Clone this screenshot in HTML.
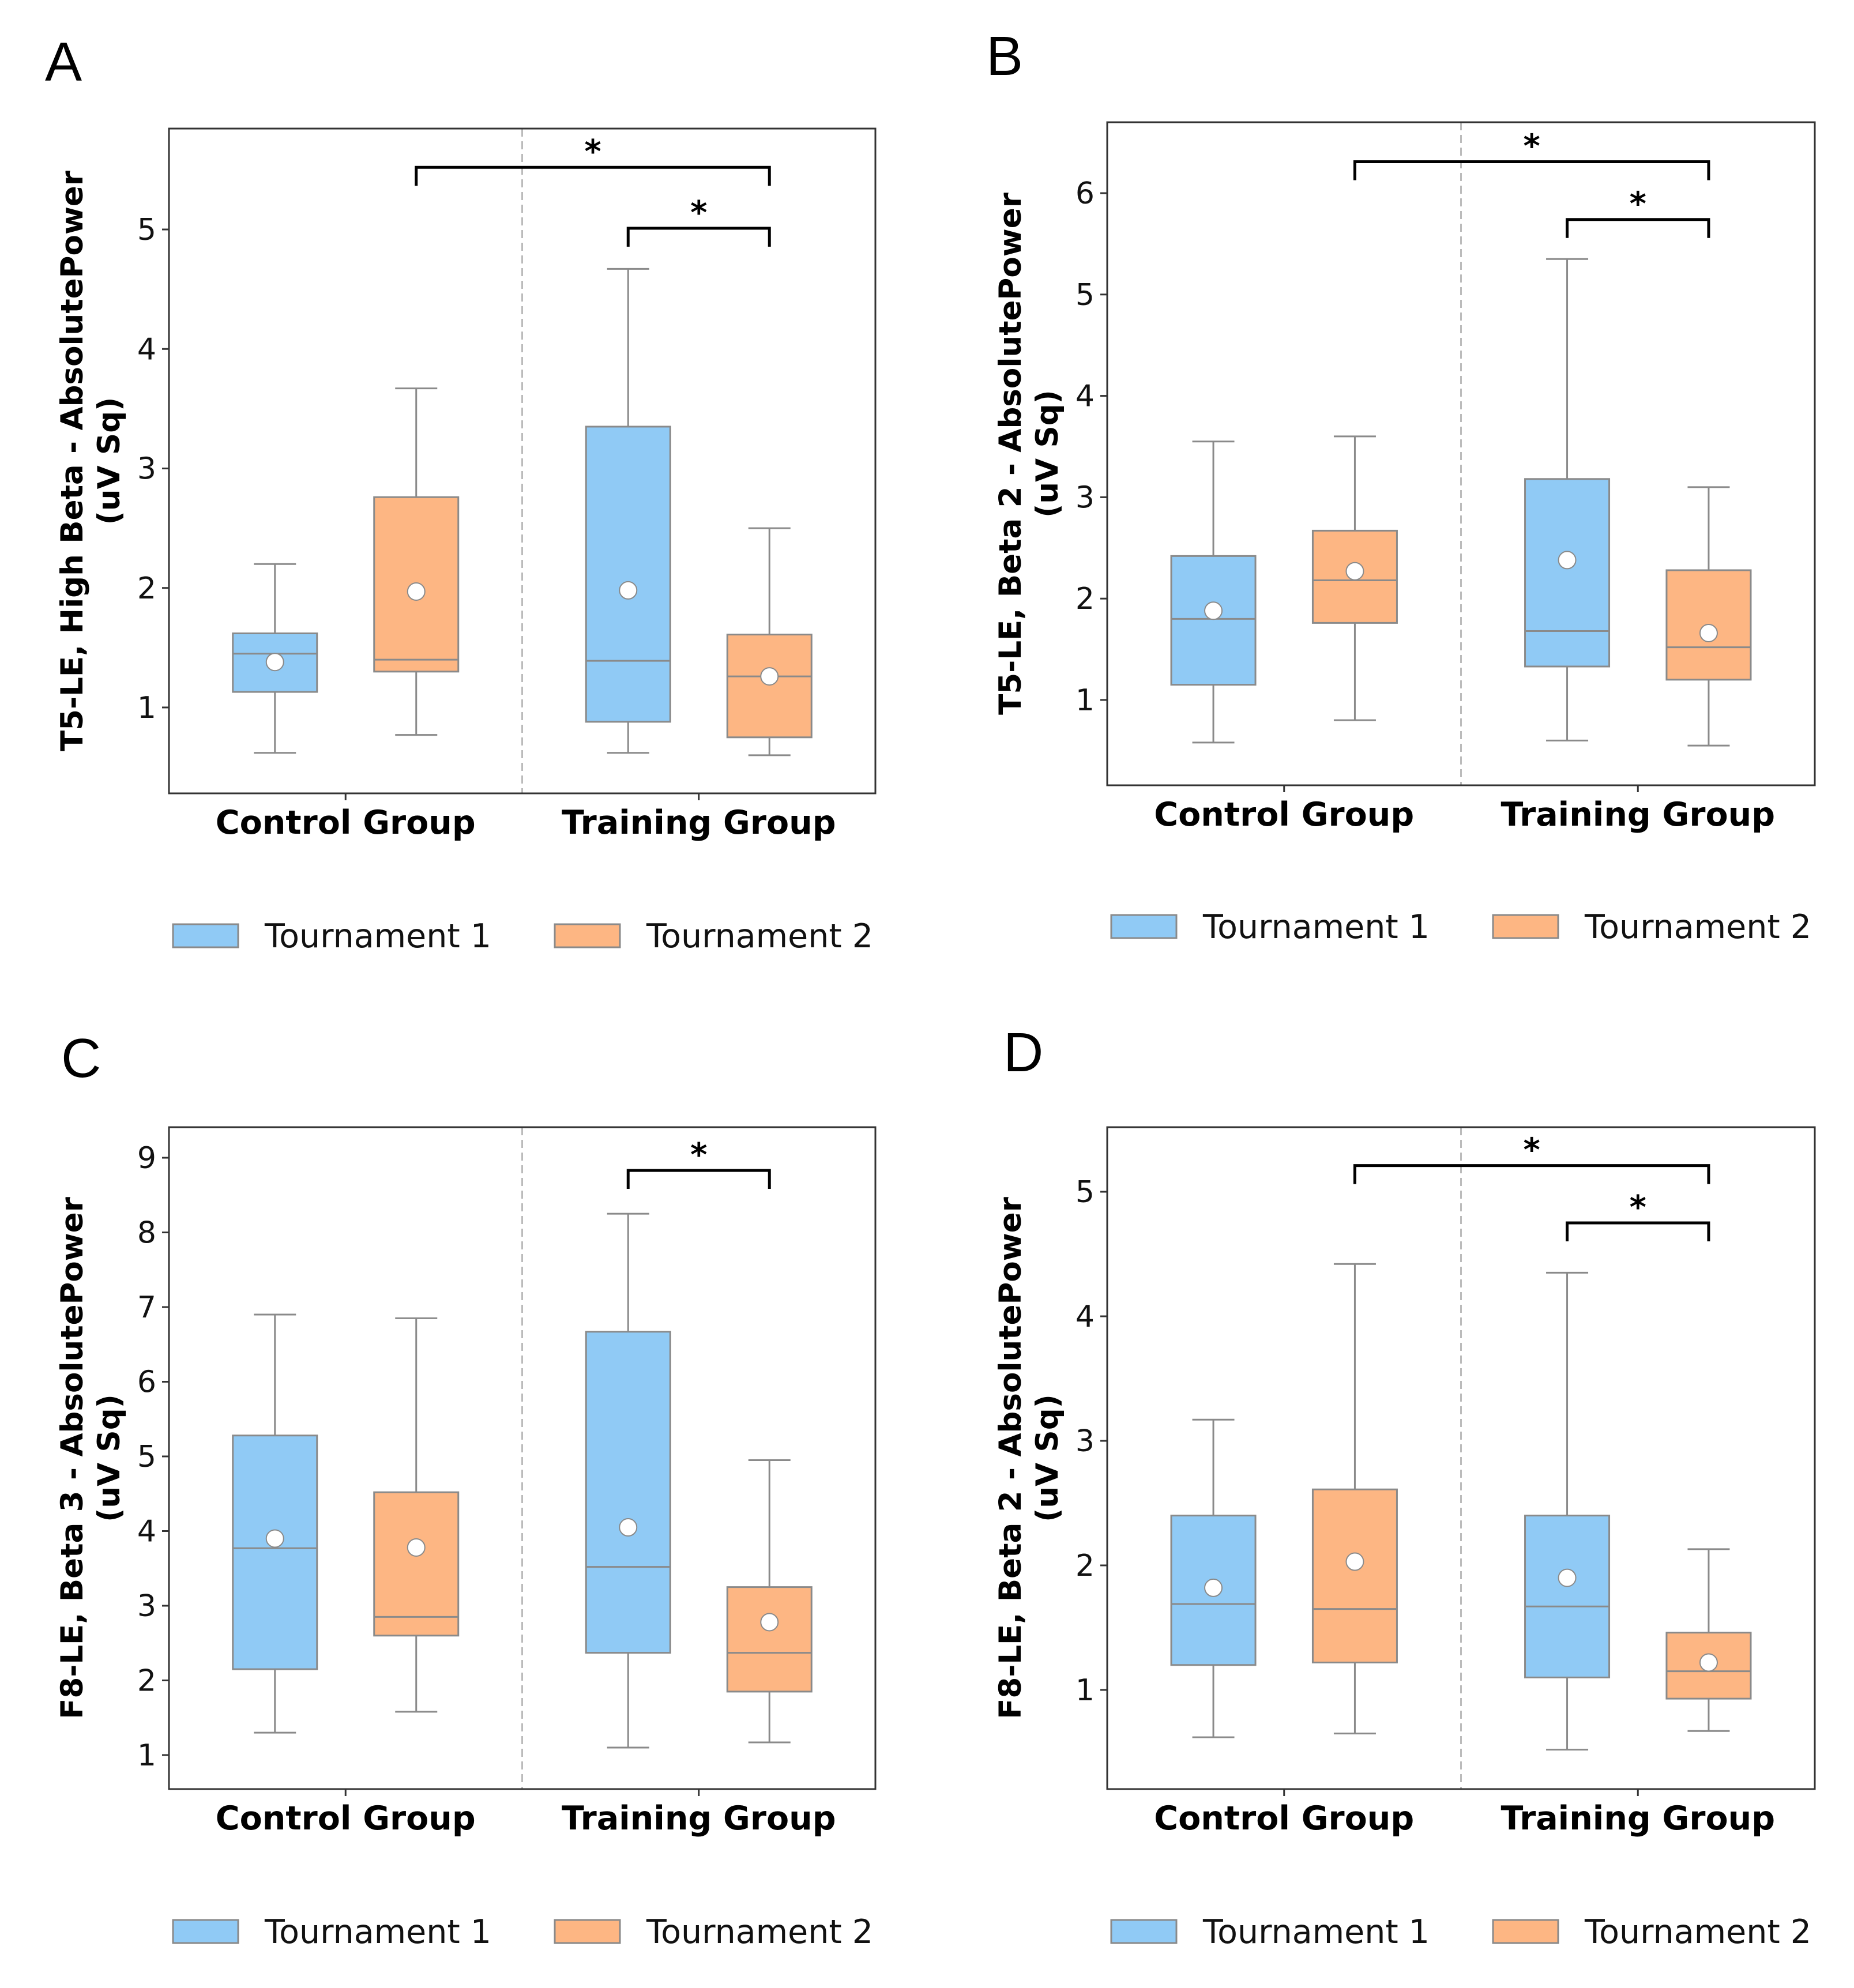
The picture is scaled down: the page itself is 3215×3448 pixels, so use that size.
<!DOCTYPE html>
<html><head><meta charset="utf-8"><style>
html,body{margin:0;padding:0;background:#fff;}
svg{display:block;font-family:"DejaVu Sans","Liberation Sans",sans-serif;}
</style></head><body>
<svg id="fig" width="3215" height="3448" viewBox="0 0 3215 3448" xmlns="http://www.w3.org/2000/svg"></svg>
<script>
// ---- data (per panel) ----
const categories = ["Control Group", "Training Group"];
const seriesNames = ["Tournament 1", "Tournament 2"];
// each box: [whiskerLow, q1, median, q3, whiskerHigh, mean]; order: ctrl-T1, ctrl-T2, train-T1, train-T2
const boxesA = [[0.62,1.13,1.45,1.62,2.2,1.38],[0.77,1.3,1.4,2.76,3.67,1.97],[0.62,0.88,1.39,3.35,4.67,1.98],[0.6,0.75,1.26,1.61,2.5,1.26]];
const boxesB = [[0.58,1.15,1.8,2.42,3.55,1.88],[0.8,1.76,2.18,2.67,3.6,2.27],[0.6,1.33,1.68,3.18,5.35,2.38],[0.55,1.2,1.52,2.28,3.1,1.66]];
const boxesC = [[1.3,2.15,3.77,5.28,6.9,3.9],[1.58,2.6,2.85,4.52,6.85,3.78],[1.1,2.37,3.52,6.67,8.25,4.05],[1.17,1.85,2.37,3.25,4.95,2.78]];
const boxesD = [[0.62,1.2,1.69,2.4,3.17,1.82],[0.65,1.22,1.65,2.61,4.42,2.03],[0.52,1.1,1.67,2.4,4.35,1.9],[0.67,0.93,1.15,1.46,2.13,1.22]];
const ticksA = [1,2,3,4,5];
const ticksB = [1,2,3,4,5,6];
const ticksC = [1,2,3,4,5,6,7,8,9];
const ticksD = [1,2,3,4,5];
// brackets: [fromBoxIndex, toBoxIndex, level]
const bracketsA = [[1,3,5.52],[2,3,5.01]];
const bracketsB = [[1,3,6.31],[2,3,5.74]];
const bracketsC = [[2,3,8.83]];
const bracketsD = [[1,3,5.21],[2,3,4.75]];
// box slot positions as fraction of x-axis (group 0: slots 0,1; group 1: slots 2,3)
const slotFrac = [0.15, 0.35, 0.65, 0.85];

const NS = "http://www.w3.org/2000/svg";
const svg = document.getElementById("fig");
function mk(tag, attrs, parent, text){
  const e = document.createElementNS(NS, tag);
  for (const k in attrs) e.setAttribute(k, attrs[k]);
  if (text !== undefined) e.textContent = text;
  (parent||svg).appendChild(e);
  return e;
}
const colors = ["#90caf5","#fdb683"];

function panel(cfg){
  const g = mk("g", {});
  
  
  const L=cfg.left, R=cfg.right, T=cfg.top, B=cfg.bottom;
  const unit = (cfg.y1 - cfg.yTop) / (cfg.topTick - 1);
  const y = v => cfg.y1 - (v - 1) * unit;
  const W = R - L;
  const x = i => L + W * slotFrac[i];
  const dashX = L + W/2;
  const bw = 146;

  const lt = mk("text", {x: cfg.letterX, y: cfg.letterY, "font-size": 96, fill: "#000", "font-family": "Liberation Sans, sans-serif"}, g, cfg.letter);
  
  

  const dl = mk("line", {x1: dashX, x2: dashX, y1: T, y2: B, stroke: "#bbb", "stroke-width": 3, "stroke-dasharray": "14 8"}, g);
  
  

  cfg.boxes.forEach((b, i) => {
    const cx = x(i);
    const bg = mk("g", {}, g);
    
    
    const st = {stroke: "#8a8a8a", "stroke-width": 3};
    mk("line", Object.assign({x1: cx, x2: cx, y1: y(b[0]), y2: y(b[1])}, st), bg);
    mk("line", Object.assign({x1: cx, x2: cx, y1: y(b[3]), y2: y(b[4])}, st), bg);
    mk("line", Object.assign({x1: cx-bw/4, x2: cx+bw/4, y1: y(b[0]), y2: y(b[0])}, st), bg);
    mk("line", Object.assign({x1: cx-bw/4, x2: cx+bw/4, y1: y(b[4]), y2: y(b[4])}, st), bg);
    mk("rect", Object.assign({x: cx-bw/2, y: y(b[3]), width: bw, height: y(b[1])-y(b[3]), fill: colors[i%2]}, st), bg);
    mk("line", Object.assign({x1: cx-bw/2, x2: cx+bw/2, y1: y(b[2]), y2: y(b[2])}, st), bg);
    mk("circle", {cx: cx, cy: y(b[5]), r: 15, fill: "#fff", stroke: "#8a8a8a", "stroke-width": 2}, bg);
  });

  cfg.brackets.forEach(br => {
    const x1 = x(br[0]), x2 = x(br[1]), yy = y(br[2]);
    const drop = 32;
    const p = mk("path", {d: `M${x1},${yy+drop} L${x1},${yy} L${x2},${yy} L${x2},${yy+drop}`, fill: "none", stroke: "#000", "stroke-width": 5}, g);
    
    
    const s = mk("text", {x: (x1+x2)/2, y: yy-8, "text-anchor": "middle", "font-size": 56, "font-weight": "bold"}, g, "*");
    
    
  });

  const fr = mk("rect", {x: L, y: T, width: W, height: B-T, fill: "none", stroke: "#333", "stroke-width": 3}, g);
  
  

  cfg.ticks.forEach(t => {
    mk("line", {x1: L-12, x2: L, y1: y(t), y2: y(t), stroke: "#333", "stroke-width": 3}, g);
    const tl = mk("text", {x: L-22, y: y(t)+18, "text-anchor": "end", "font-size": 52, fill: "#111"}, g, String(t));
    
    
  });
  categories.forEach((c, k) => {
    const cx = L + W * (0.25 + 0.5*k);
    mk("line", {x1: cx, x2: cx, y1: B, y2: B+12, stroke: "#333", "stroke-width": 3}, g);
    const cl = mk("text", {x: cx, y: B+70, "text-anchor": "middle", "font-size": 57, "font-weight": "bold"}, g, c);
    
    
  });
  const ymid = (T+B)/2;
  const yt = mk("text", {transform: `translate(${L-150},${ymid}) rotate(-90)`, "text-anchor": "middle", "font-size": 53, "font-weight": "bold"}, g);
  
  
  mk("tspan", {x: 0, dy: 0}, yt, cfg.ylabel);
  mk("tspan", {x: 0, dy: 64}, yt, "(uV Sq)");

  const ly = cfg.legendY;
  seriesNames.forEach((n, k) => {
    const lx = L + 7 + k*662;
    const le = mk("g", {}, g);
    
    
    mk("rect", {x: lx, y: ly-20, width: 113, height: 40, fill: colors[k], stroke: "#8a8a8a", "stroke-width": 3}, le);
    mk("text", {x: lx+159, y: ly+20, "font-size": 57, fill: "#111"}, le, n);
  });
}

panel({letter:"A", letterX:78, letterY:140, left:293, right:1518, top:223, bottom:1376, y1:1227, yTop:398, topTick:5, ticks:ticksA, boxes:boxesA, brackets:bracketsA, ylabel:"T5-LE, High Beta - AbsolutePower", legendY:1623});
panel({letter:"B", letterX:1710, letterY:130, left:1920, right:3147, top:212, bottom:1362, y1:1214, yTop:335, topTick:6, ticks:ticksB, boxes:boxesB, brackets:bracketsB, ylabel:"T5-LE, Beta 2 - AbsolutePower", legendY:1607});
panel({letter:"C", letterX:106, letterY:1868, left:293, right:1518, top:1955, bottom:3103, y1:3044, yTop:2008, topTick:9, ticks:ticksC, boxes:boxesC, brackets:bracketsC, ylabel:"F8-LE, Beta 3 - AbsolutePower", legendY:3350});
panel({letter:"D", letterX:1740, letterY:1858, left:1920, right:3147, top:1955, bottom:3103, y1:2931, yTop:2067, topTick:5, ticks:ticksD, boxes:boxesD, brackets:bracketsD, ylabel:"F8-LE, Beta 2 - AbsolutePower", legendY:3350});
</script>
</body></html>
